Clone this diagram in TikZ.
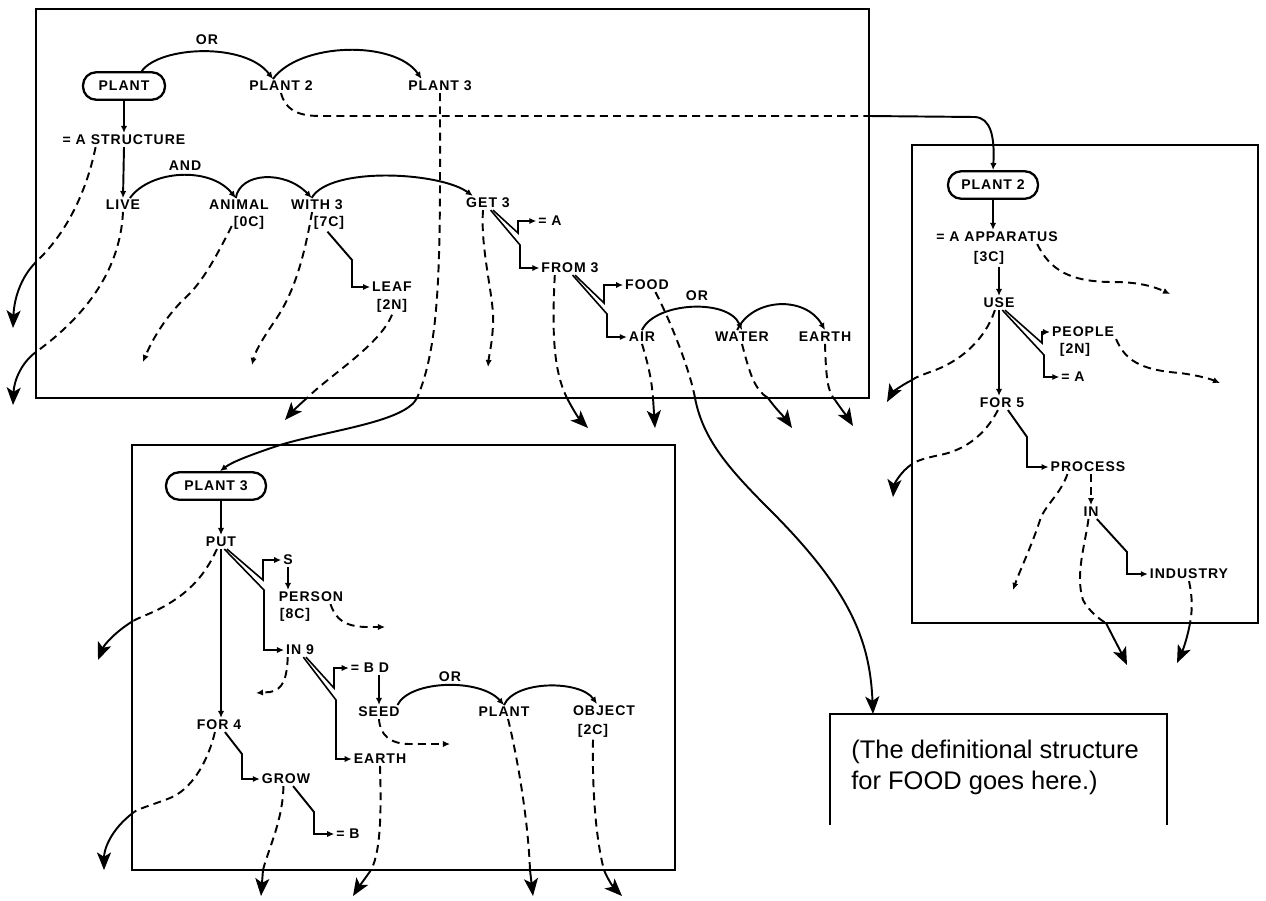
\documentclass[tikz,border=0pt]{standalone}
\usepackage{fontspec}
\setmainfont{Liberation Sans}
\newfontfamily\lblfont{Liberation Sans}[LetterSpace=7]
\usetikzlibrary{arrows.meta,positioning,calc}

\begin{document}
\begin{tikzpicture}[x=0.02cm,y=-0.02cm,>=Latex,
  lbl/.style={font=\lblfont\bfseries\fontsize{8}{9}\selectfont,inner sep=1pt},
  head/.style={draw,line width=1.3pt,rounded corners=7.5pt,minimum height=0.55cm,font=\lblfont\bfseries\fontsize{8}{9}\selectfont},
  frame/.style={line width=1.5pt},
  link/.style={line width=1.1pt},
  dsh/.style={line width=1.1pt,dash pattern=on 4.5pt off 3pt},
  dbl/.style={line width=0.9pt},
  tip/.style={-{Latex[length=4pt,width=3.6pt]}},
  big/.style={-{Stealth[length=10pt,width=8pt,inset=2.5pt]}}]
  \useasboundingbox (0,0) rectangle (1266,900);

  % frames
  \draw[frame] (36,9) rectangle (869,398);
  \draw[frame] (912,145) rectangle (1258,623);
  \draw[frame] (132,445) rectangle (675,870);
  \draw[frame] (830,825) -- (830,714) -- (1167,714) -- (1167,825);
  \coordinate (foodtop) at (873,714);
  \node[anchor=west,align=left,inner sep=0pt,font=\fontsize{14.5}{17.6}\selectfont] (foodnote) at (851,767)
    {(The definitional structure\\for FOOD goes here.)};

  % heads
  \node[head,minimum width=1.64cm] (plant) at (124,86) {PLANT};
  \node[head,minimum width=1.8cm] (plantb) at (993,185) {PLANT 2};
  \node[head,minimum width=2.0cm] (plantc) at (216,486) {PLANT 3};

  % labels
  \foreach \x/\y/\name/\txt in {
    281/86/plantii/PLANT 2, 440/86/plantiii/PLANT 3, 207/40/orA/OR,
    124/140/struct/= A STRUCTURE, 185/166/andA/AND, 123/205/live/LIVE,
    239/205/animal/ANIMAL, 249/223/animalc/[0C], 317/205/with/WITH 3,
    329/223/withc/[7C], 392/287/leaf/LEAF, 392/306/leafc/[2N],
    488/203/get/GET 3, 550/221/eqA/= A, 570/268/from/FROM 3,
    647/285/food/FOOD, 697/296/orB/OR, 642/337/air/AIR,
    742/337/water/WATER, 825/337/earth/EARTH,
    997/237/appar/= A APPARATUS, 989/258/apparc/[3C], 999/303/use/USE,
    1083/332/people/PEOPLE, 1075/350/peoplec/[2N], 1073/377/eqAb/= A,
    1002/403/forv/FOR 5, 1088/467/process/PROCESS, 1091/512/inn/IN,
    1189/574/industry/INDUSTRY,
    221/542/put/PUT, 288/560/s/S, 311/597/person/PERSON,
    295/615/personc/[8C], 300/650/inix/IN 9, 370/668/eqBD/= B D,
    379/712/seed/SEED, 450/677/orC/OR, 504/712/plantd/PLANT,
    604/711/object/OBJECT, 593/731/objectc/[2C], 219/725/foriv/FOR 4,
    380/759/earthb/EARTH, 286/779/grow/GROW, 348/834/eqB/= B}
  {
    \node[lbl] (\name) at (\x,\y) {\txt};
  }

  % PLANT
  \draw[link,tip] (plant.40) .. controls (160,46) and (245,42) .. (plantii.139);
  \draw[link,tip] (plantii.139) .. controls (300,42) and (395,40) .. (plantiii.159);
  \draw[link,tip] (plant.south) -- (struct.north);
  \draw[link,tip] (struct.south) -- (live.north);
  \draw[link,tip] (live.45) .. controls (150,170) and (210,166) .. (animal.115);
  \draw[link,tip] (animal.115) .. controls (240,172) and (285,170) .. (with.127);
  \draw[link,tip] (with.127) .. controls (330,166) and (440,172) .. (get.155);
  \draw[link,tip] (withc.-100) -- (352,260) |- (leaf.west);
  \draw[dbl,tip] (get.-55) -- (518,233) |- (eqA.west);
  \draw[dbl,tip] (get.-70) -- (520,245) |- (from.west);
  \draw[dbl,tip] (from.-55) -- (604,303) |- (food.west);
  \draw[dbl,tip] (from.-70) -- (607,314) |- (air.west);
  \draw[link,tip] (air.north) .. controls (655,302) and (728,298) .. (water.north);
  \draw[link,tip] (water.125) .. controls (752,298) and (805,295) .. (earth.north);

  \draw[dsh] (struct.194) .. controls (88,185) and (70,230) .. (36,262);
  \draw[link,big] (36,262) .. controls (20,278) and (14,300) .. (13,328);
  \draw[dsh] (live.south) .. controls (120,275) and (80,320) .. (36,352);
  \draw[link,big] (36,352) .. controls (22,362) and (14,380) .. (13,405);
  \draw[dsh,tip] (animalc.190) .. controls (212,265) and (200,285) .. (183,300)
    .. controls (165,318) and (152,340) .. (143,362);
  \draw[dsh,tip] (with.235) .. controls (302,270) and (290,300) .. (272,325)
    .. controls (262,340) and (255,352) .. (252,365);
  \draw[dsh] (leafc.south) .. controls (380,345) and (330,375) .. (307,398);
  \draw[link,big] (307,398) .. controls (300,404) and (292,412) .. (285,420);
  \draw[dsh,tip] (get.235) .. controls (480,250) and (495,300) .. (493,325)
    .. controls (492,345) and (489,355) .. (488,367);
  \draw[dsh] (from.205) .. controls (552,330) and (553,370) .. (567,398);
  \draw[link,big] (567,398) .. controls (573,410) and (580,420) .. (588,428);
  \draw[dsh] (air.south) .. controls (650,370) and (652,385) .. (653,398);
  \draw[link,big] (653,398) -- (655,428);
  \draw[dsh] (water.south) .. controls (750,375) and (755,390) .. (768,398);
  \draw[link,big] (768,398) .. controls (775,408) and (785,418) .. (792,428);
  \draw[dsh] (earth.south) .. controls (826,380) and (828,392) .. (835,400);
  \draw[link,big] (835,400) .. controls (842,410) and (848,418) .. (853,426);
  \draw[dsh] (food.-40) .. controls (670,320) and (690,370) .. (695,398);
  \draw[link,big] (695,398) .. controls (703,440) and (730,470) .. (770,510)
    .. controls (850,590) and (870,640) .. (foodtop);
  \draw[dsh] (plantii.south) .. controls (285,108) and (295,116) .. (320,116) -- (869,116);
  \draw[link,tip] (869,116) -- (975,117) .. controls (990,118) and (995,135) .. (plantb.north);
  \draw[dsh] (plantiii.south) .. controls (440,250) and (442,340) .. (417,398);
  \draw[link,tip] (417,398) .. controls (405,422) and (330,430) .. (280,445)
    .. controls (250,455) and (232,462) .. (plantc.75);

  % PLANT 2
  \draw[link,tip] (plantb.south) -- (plantb.south |- appar.north);
  \draw[link,tip] (use.north |- apparc.south) -- (use.north);
  \draw[dsh,tip] (appar.-10) .. controls (1050,270) and (1070,282) .. (1113,282)
    .. controls (1140,282) and (1155,287) .. (1170,294);
  \draw[dbl,tip] (use.-50) -- (1042,343) |- (people.west);
  \draw[dbl,tip] (use.-65) -- (1044,355) |- (eqAb.west);
  \draw[dsh,tip] (people.south east) .. controls (1125,360) and (1140,370) .. (1180,373)
    .. controls (1195,375) and (1208,378) .. (1220,383);
  \draw[dsh] (use.-120) .. controls (985,340) and (960,362) .. (930,372)
    .. controls (922,375) and (916,377) .. (912,380);
  \draw[link,big] (912,380) .. controls (900,386) and (892,393) .. (887,402);
  \draw[link,tip] (use.south) -- (use.south |- forv.north);
  \draw[link,tip] (forv.-50) -- (1027,437) |- (process.west);
  \draw[dsh] (forv.-120) .. controls (985,435) and (965,450) .. (940,455)
    .. controls (925,458) and (916,461) .. (912,464);
  \draw[link,big] (912,464) .. controls (900,472) and (894,485) .. (893,497);
  \draw[dsh,tip] (inn.north |- process.south) -- (inn.north);
  \draw[dsh,tip] (process.199) .. controls (1060,495) and (1045,505) .. (1040,520)
    .. controls (1032,545) and (1020,570) .. (1013,590);
  \draw[link,tip] (inn.-50) -- (1127,552) |- (industry.west);
  \draw[dsh] (inn.-110) .. controls (1085,545) and (1075,575) .. (1083,600)
    .. controls (1088,610) and (1100,620) .. (1106,623);
  \draw[link,big] (1106,623) .. controls (1113,637) and (1120,650) .. (1127,665);
  \draw[dsh] (industry.south) .. controls (1193,600) and (1192,612) .. (1190,623);
  \draw[link,big] (1190,623) .. controls (1187,640) and (1182,652) .. (1177,663);

  % PLANT 3
  \draw[link,tip] (put.north |- plantc.south) -- (put.north);
  \draw[dbl,tip] (put.-50) -- (263,580) |- (s.west);
  \draw[dbl,tip] (put.-65) -- (264,590) |- (inix.west);
  \draw[link,tip] (s.south) -- (s.south |- person.north);
  \draw[dsh,tip] (person.-20) .. controls (336,620) and (345,626) .. (365,627) -- (385,627);
  \draw[dsh] (put.-120) .. controls (205,575) and (190,592) .. (163,607)
    .. controls (150,614) and (140,617) .. (133,621);
  \draw[link,big] (133,621) .. controls (115,632) and (104,645) .. (98,660);
  \draw[link,tip] (put.south) -- (put.south |- foriv.north);
  \draw[dbl,tip] (inix.-50) -- (334,688) |- (eqBD.west);
  \draw[dbl,tip] (inix.-65) -- (336,700) |- (earthb.west);
  \draw[dsh,tip] (inix.210) .. controls (287,678) and (283,690) .. (270,692) -- (256,693);
  \draw[link,tip] (seed.north |- eqBD.south) -- (seed.north);
  \draw[link,tip] (seed.21) .. controls (410,680) and (480,678) .. (plantd.north);
  \draw[link,tip] (plantd.north) .. controls (515,680) and (580,680) .. (object.135);
  \draw[dsh,tip] (seed.south) .. controls (380,735) and (390,744) .. (410,744) -- (450,744);
  \draw[dsh] (plantd.-60) .. controls (518,760) and (528,820) .. (530,870);
  \draw[link,big] (530,870) -- (533,896);
  \draw[dsh] (objectc.south) .. controls (592,790) and (596,840) .. (604,870);
  \draw[link,big] (604,870) .. controls (608,880) and (614,888) .. (622,896);
  \draw[link,tip] (foriv.-50) -- (242,754) |- (grow.west);
  \draw[dsh] (foriv.-120) .. controls (207,765) and (190,790) .. (170,798)
    .. controls (155,804) and (140,808) .. (134,812);
  \draw[link,big] (134,812) .. controls (110,830) and (104,850) .. (104,870);
  \draw[link,tip] (grow.-45) -- (314,812) |- (eqB.west);
  \draw[dsh] (grow.-110) .. controls (283,820) and (268,850) .. (263,870);
  \draw[link,big] (263,870) -- (261,896);
  \draw[dsh] (earthb.south) .. controls (381,800) and (382,850) .. (371,870);
  \draw[link,big] (371,870) .. controls (364,880) and (358,888) .. (353,896);
\end{tikzpicture}
\end{document}
